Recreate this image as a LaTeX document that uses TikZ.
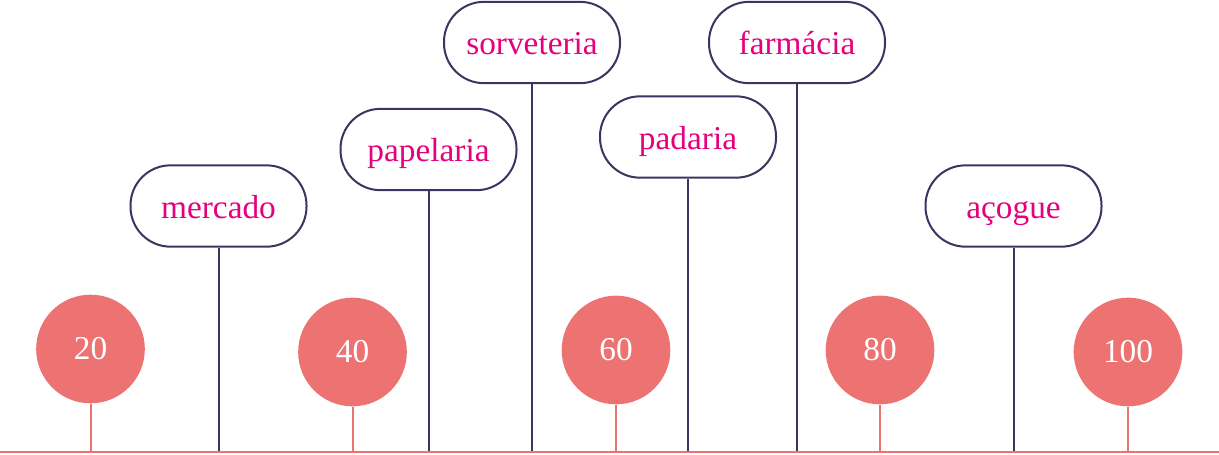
\documentclass[tikz,border=0pt]{standalone}
\usepackage{fontspec}
\setmainfont{Liberation Serif}
\usepackage{tikz}

\definecolor{salmon}{HTML}{ED7272}
\definecolor{ink}{HTML}{3B3461}
\definecolor{rosa}{HTML}{E5007D}

\begin{document}
\begin{tikzpicture}[x=0.75pt, y=-0.75pt,
    num/.style = {circle, fill=salmon, text=white, minimum size=81.5pt, inner sep=0pt, font=\fontsize{25}{29}\selectfont},
    place/.style = {draw=ink, line width=1.5pt, rounded corners=30pt, fill=white, text=rosa, minimum width=132pt, minimum height=61pt, text height=20pt, text depth=2pt, font=\fontsize{25}{29}\selectfont},
    redline/.style = {draw=salmon, line width=1.5pt},
    blueline/.style = {draw=ink, line width=1.5pt}]
        \useasboundingbox (0,0) rectangle (1219,454);
        \coordinate (b0) at (0,452);
        \coordinate (b1) at (1219,452);
        % places
        \node[place] (merc) at (218.5,206) {mercado};
        \node[place] (pape) at (428.5,149.5) {papelaria};
        \node[place] (sorv) at (532,42.5) {sorveteria};
        \node[place] (pada) at (688,137) {padaria};
        \node[place] (farm) at (797,42.5) {farmácia};
        \node[place] (acou) at (1013.5,206) {açogue};
        % numbers
        \node[num] (n20) at (90.5,349) {20};
        \node[num] (n40) at (352.5,352) {40};
        \node[num] (n60) at (616,350) {60};
        \node[num] (n80) at (880,350) {80};
        \node[num] (n100) at (1128,352) {100};
        \foreach \p in {merc,pape,sorv,pada,farm,acou}
            \draw[blueline] (\p.south) -- (\p.south |- b0);
        \foreach \n in {n20,n40,n60,n80,n100}
            \draw[redline] (\n.south) -- (\n.south |- b0);
        \draw[redline] (b0) -- (b1);
    \end{tikzpicture}
\end{document}
